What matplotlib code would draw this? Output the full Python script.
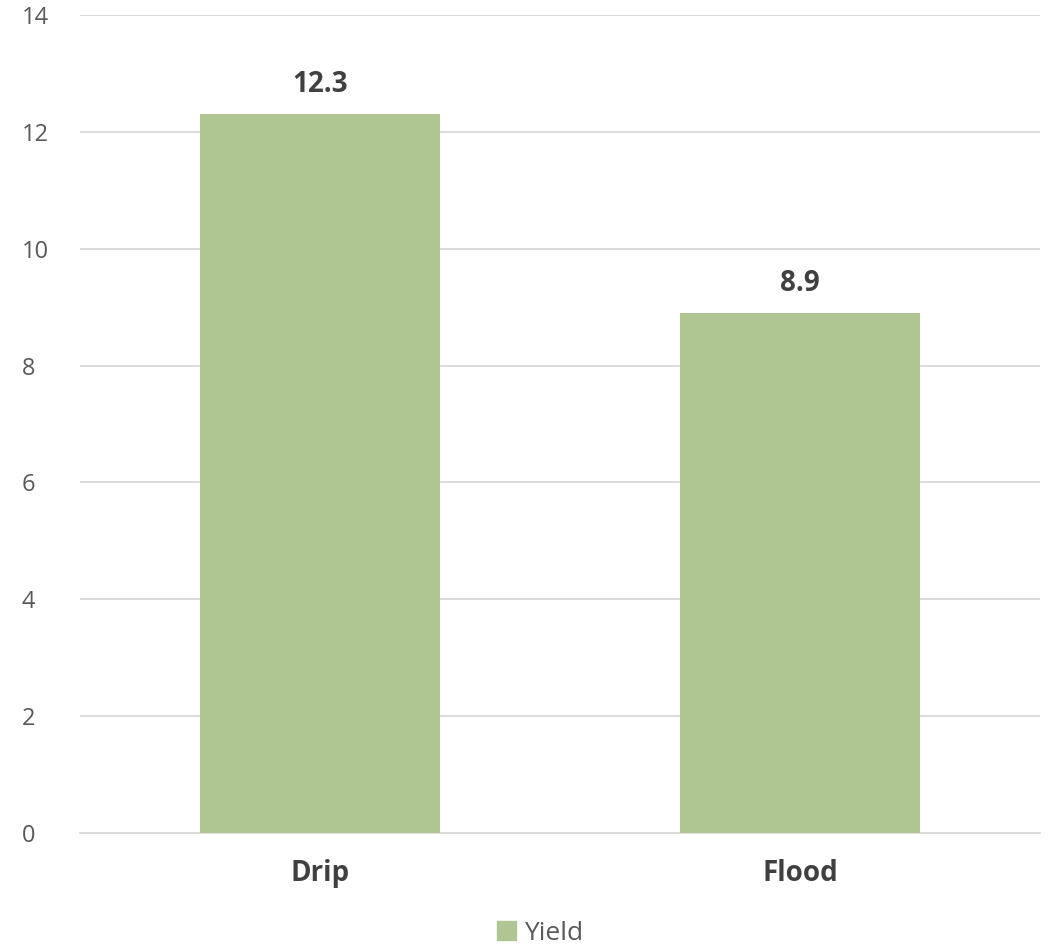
import matplotlib.pyplot as plt
from matplotlib.patches import Patch

methods = ['Drip', 'Flood']
yield_vals = [12.3, 8.9]
y_ticks = [0, 2, 4, 6, 8, 10, 12, 14]

bar_color = '#AFC693'
text_color = '#404040'
tick_color = '#595959'

plt.rcParams['font.family'] = ['Open Sans', 'DejaVu Sans']

fig = plt.figure(figsize=(10.51, 9.49), dpi=100)
ax = fig.add_axes([80 / 1051, 116 / 949, 960 / 1051, 818 / 949])

x = range(len(methods))
bars = ax.bar(x, yield_vals, width=0.5, color=bar_color, zorder=3)

ax.set_xlim(-0.5, len(methods) - 0.5)
ax.set_ylim(0, 14)
ax.set_yticks(y_ticks)
ax.set_xticks(list(x))
ax.set_xticklabels(methods, fontsize=20, fontweight='bold', color=text_color)

ax.grid(axis='y', color='#D9D9D9', linewidth=1.3, zorder=0)
for s in ['top', 'right', 'left']:
    ax.spines[s].set_visible(False)
ax.spines['bottom'].set_color('#D9D9D9')
ax.spines['bottom'].set_linewidth(1.3)
ax.tick_params(axis='both', length=0)
ax.tick_params(axis='x', pad=19)
ax.tick_params(axis='y', pad=42, labelsize=17, labelcolor=tick_color)
for lbl in ax.get_yticklabels():
    lbl.set_horizontalalignment('left')

# value labels over each bar
for b, v in zip(bars, yield_vals):
    ax.annotate(f'{v}', (b.get_x() + b.get_width() / 2, v),
                xytext=(0, 11), textcoords='offset points',
                ha='center', va='bottom', fontsize=20,
                fontweight='bold', color=text_color)

fig.legend(handles=[Patch(color=bar_color, label='Yield')],
           loc='center', bbox_to_anchor=(540 / 1051, 1 - 933 / 949),
           frameon=False, fontsize=19, handlelength=0.7, handleheight=0.7,
           handletextpad=0.3, labelcolor=tick_color)

fig.savefig('out.png', dpi=100)
